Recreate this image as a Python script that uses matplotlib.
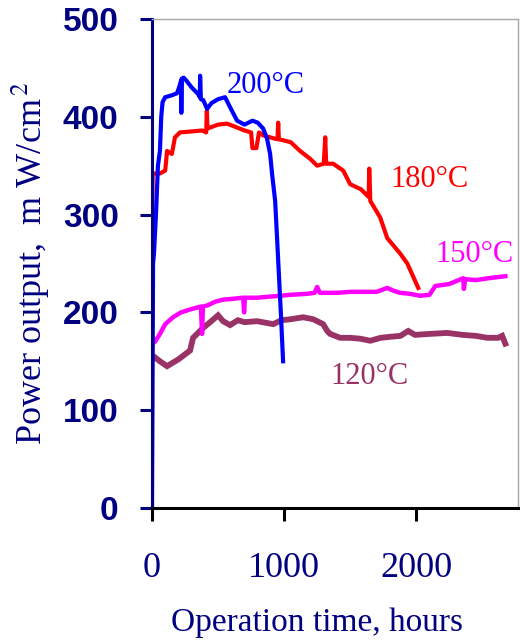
import matplotlib.pyplot as plt

plt.rcParams['mathtext.fontset'] = 'stix'

NAVY = '#000080'

# 200 C cell
h_200 = [0, 4, 8, 15, 30, 45, 60, 70, 80, 100, 150, 189, 205, 220, 222, 225, 240, 260,
         300, 351, 362, 364, 370, 388, 417, 450, 500, 553, 590, 644, 700, 760, 800,
         841, 870, 894, 910, 932, 945, 955, 975, 992]
p_200 = [0, 120, 250, 260, 300, 350, 365, 400, 415, 420, 422, 424, 430, 437, 404, 439, 440, 437,
         430, 423, 420, 442, 418, 417, 408, 414, 418, 420, 410, 396, 392, 396, 394,
         388, 378, 362, 340, 314, 280, 253, 200, 150]

# 180 C cell
h_180 = [0, 5, 60, 100, 114, 150, 174, 212, 300, 380, 410, 415, 420, 500, 568, 644, 700,
         750, 760, 790, 810, 841, 920, 950, 955, 960, 992, 1050, 1121, 1197, 1250, 1300,
         1311, 1318, 1371, 1447, 1500, 1580, 1640, 1644, 1652, 1727, 1780, 1879, 1932, 2015]
p_180 = [283, 342, 342, 345, 365, 362, 379, 384, 385, 386, 384, 406, 388, 392, 393, 389, 386,
         384, 368, 368, 384, 381, 378, 377, 394, 377, 376, 374, 365, 357, 350, 352,
         379, 352, 352, 345, 331, 326, 318, 347, 314, 297, 276, 260, 250, 225]

# 150 C cell
h_150 = [0, 23, 60, 100, 159, 220, 288, 370, 379, 385, 417, 480, 538, 620, 690, 697, 703,
         795, 880, 970, 1050, 1174, 1230, 1250, 1270, 1326, 1400, 1500, 1600, 1700, 1780,
         1830, 1879, 1950, 2030, 2100, 2144, 2250, 2356, 2360, 2370, 2450, 2550, 2674]
p_150 = [168, 170, 178, 188, 195, 200, 203, 206, 178, 206, 207, 211, 213, 214, 215, 200, 215,
         215, 216, 217, 218, 219, 220, 226, 220, 220, 220, 221, 221, 221, 225,
         222, 220, 219, 217, 218, 227, 229, 235, 224, 234, 233, 235, 237]

# 120 C cell
h_120 = [0, 23, 60, 114, 200, 288, 311, 386, 440, 500, 538, 591, 650, 700, 795, 917, 980,
         1050, 1144, 1220, 1295, 1326, 1348, 1424, 1500, 1580, 1652, 1730, 1800, 1880, 1939,
         1990, 2100, 2235, 2350, 2450, 2538, 2620, 2650, 2674]
p_120 = [152, 154, 150, 145, 152, 161, 174, 184, 190, 197, 191, 187, 192, 190, 191, 188, 192,
         193, 195, 193, 188, 181, 178, 174, 174, 173, 171, 174, 175, 176, 181,
         177, 178, 179, 177, 176, 174, 174, 176, 168]

fig = plt.figure(figsize=(5.2, 6.41), dpi=100)
ax = fig.add_axes([0.2923, 0.2075, 0.7039, 0.7629])

ax.plot(h_120, p_120, color='#993366', lw=4.2, solid_joinstyle='miter')
ax.plot(h_150, p_150, color='#FF00FF', lw=3.2)
ax.plot(h_180, p_180, color='#FF0000', lw=3.0)
ax.plot(h_200, p_200, color='#0000FF', lw=3.0)

ax.set_xlim(0, 2770)
ax.set_ylim(0, 500)
ax.set_xticks([0, 1000, 2000])
ax.set_yticks([0, 100, 200, 300, 400, 500])

ax.spines['left'].set_color(NAVY)
ax.spines['left'].set_linewidth(2.2)
ax.spines['bottom'].set_color('black')
ax.spines['bottom'].set_linewidth(2.2)
for s in ('top', 'right'):
    ax.spines[s].set_color('#a8a8a8')
    ax.spines[s].set_linewidth(1.0)

ax.tick_params(axis='y', direction='out', length=9, width=2.2, color=NAVY, pad=15,
               labelcolor=NAVY)
ax.tick_params(axis='x', direction='out', length=9, width=2.2, color='black', pad=23,
               labelcolor=NAVY)
for lab in ax.get_yticklabels():
    lab.set_fontfamily('Liberation Sans')
    lab.set_fontweight('bold')
    lab.set_fontsize(24)
for lab in ax.get_xticklabels():
    lab.set_fontfamily('Liberation Serif')
    lab.set_fontsize(26)

ax.set_xlabel('Operation time, hours', family='Liberation Serif', fontsize=24,
              color=NAVY, labelpad=16)
ax.xaxis.label.set_x(0.452)
ax.set_ylabel(r'Power output,  m W/cm$^{\,2}$', family='Liberation Serif', fontsize=26,
              color=NAVY, labelpad=8)

ax.text(568, 424, '200°C', color='#0000FF', family='Liberation Serif', fontsize=22)
ax.text(1803, 328, '180°C', color='#FF0000', family='Liberation Serif', fontsize=22)
ax.text(2144, 252, '150°C', color='#FF00FF', family='Liberation Serif', fontsize=22)
ax.text(1348, 127, '120°C', color='#993366', family='Liberation Serif', fontsize=22)

fig.savefig('out.png', dpi=100)
